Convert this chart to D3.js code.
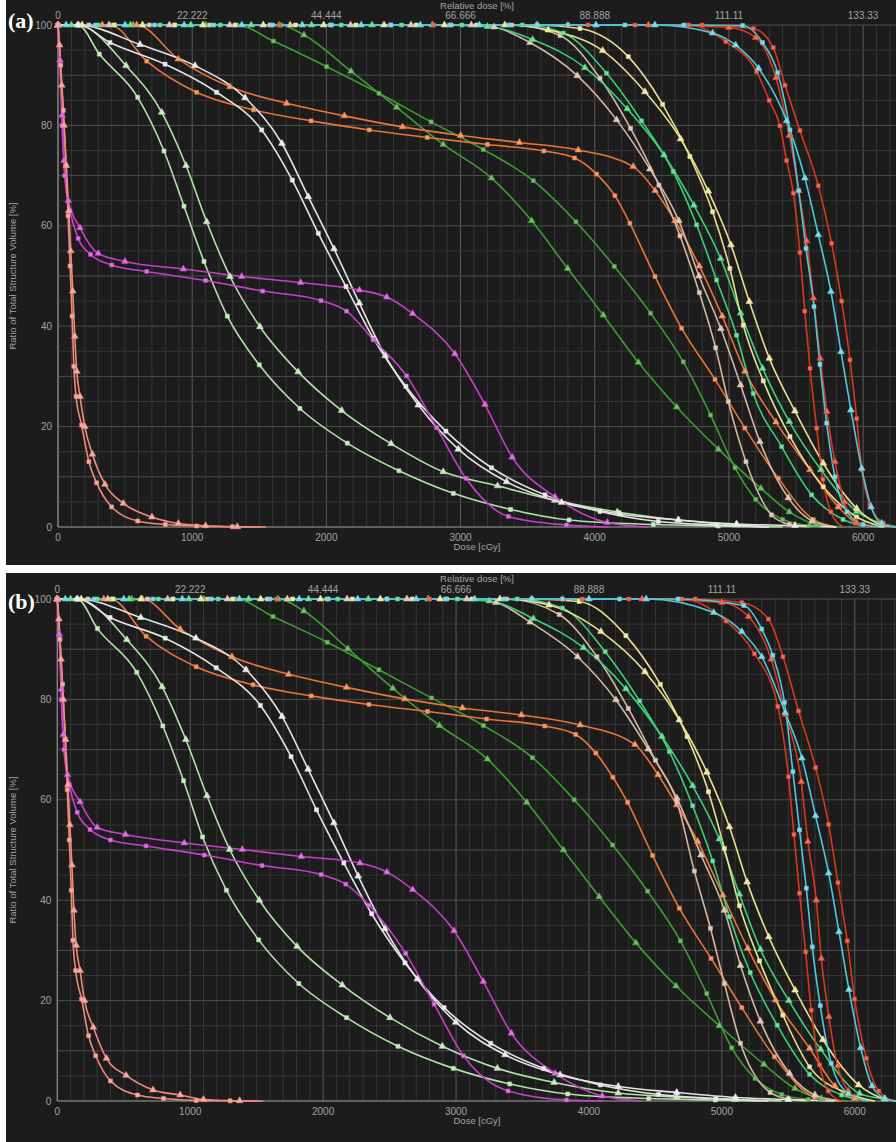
<!DOCTYPE html>
<html><head><meta charset="utf-8">
<script src="https://cdn.jsdelivr.net/npm/d3@7"></script>
<style>html,body{margin:0;padding:0;background:#fff;}svg{display:block;}</style>
</head><body>
<script>
// ---------- tick labels ----------
const doseTicks = [0,1000,2000,3000,4000,5000,6000];
const doseTickLabels = ["0","1000","2000","3000","4000","5000","6000"];
const relTicks = [0,22.222,44.444,66.666,88.888,111.11,133.33];
const relTickLabels = ["0","22.222","44.444","66.666","88.888","111.11","133.33"];
const volTicks = [0,20,40,60,80,100];
const volTickLabels = ["0","20","40","60","80","100"];

// ---------- panel (a) series: [dose cGy, volume %] ----------
const a_pinkSq = [[0,100],[20,92],[40,83],[60,72],[75,62],[90,52],[105,42],[118,32],[135,26],[176,20.3],[230,13],[288,8.8],[400,4],[594,1.2],[800,0.5],[1033,0.2],[1300,0.05],[1500,0]];
const a_pinkTri = [[0,100],[12,96],[28,88],[45,80],[62,72],[80,63],[95,55],[110,47],[125,38],[140,31],[164,26],[200,20],[256,14.5],[350,8.5],[487,4.7],[700,2],[897,0.7],[1100,0.25],[1336,0.05],[1550,0]];
const a_magTri = [[0,100],[15,93],[30,82],[45,73],[77,65],[164,59.6],[300,54.5],[499,52.9],[934,51.4],[1369,49.9],[1808,48.7],[2246,47.2],[2450,45.8],[2643,42.5],[2958,34.5],[3182,24.4],[3385,13.9],[3703,6.0],[4093,0.9],[4400,0]];
const a_magSq = [[0,100],[15,92],[30,80],[50,70],[90,63],[150,57.5],[243,54.3],[400,52.2],[661,50.9],[1100,49.1],[1525,47.0],[1960,45.1],[2150,43.0],[2350,37.3],[2598,30.1],[2822,19.8],[3040,9.7],[3356,2.1],[3790,0.4],[4100,0]];
const a_mintSq = [[0,100],[150,100],[308,94.2],[594,85.6],[790,74.9],[939,63.9],[1088,52.9],[1262,42.0],[1500,32.3],[1803,23.6],[2156,16.7],[2541,11.2],[2946,6.7],[3373,3.5],[3808,1.4],[4436,0.5],[4921,0.2],[5300,0]];
const a_mintTri = [[0,100],[150,100],[507,91.9],[773,82.6],[954,72.0],[1108,60.8],[1282,49.9],[1505,39.9],[1790,30.9],[2114,23.2],[2482,16.6],[2871,11.0],[3276,8.2],[3703,5.3],[4168,3.0],[4624,1.4],[5057,0.4],[5400,0]];
const a_whiteTri = [[0,100],[150,100],[611,96.1],[1021,91.9],[1394,85.5],[1669,76.4],[1865,65.8],[2057,55.4],[2246,44.6],[2439,34.1],[2685,24.3],[2983,15.5],[3343,9.0],[3753,4.9],[4188,2.6],[4622,1.4],[5057,0.6],[5492,0.3],[5800,0]];
const a_whiteSq = [[0,100],[150,100],[387,96.5],[798,92.2],[1182,86.6],[1518,79.1],[1746,69.1],[1940,58.5],[2146,47.9],[2350,37.6],[2593,28.0],[2891,19.1],[3231,11.8],[3629,6.4],[4039,3.1],[4473,1.1],[4908,0.4],[5300,0]];
const a_orangeTri = [[0,100],[330,100],[586,100],[897,93.2],[1282,87.7],[1704,84.4],[2134,81.9],[2568,79.7],[3001,78.0],[3438,76.6],[3877,75.1],[4287,71.8],[4450,67],[4598,61],[4779,52],[4950,42],[5120,31],[5350,20.9],[5604,11.4],[5815,4],[5950,0.8],[6100,0]];
const a_orangeSq = [[0,100],[390,100],[661,92.8],[1033,86.6],[1456,83.1],[1886,80.9],[2320,79.1],[2752,77.6],[3200,76.2],[3621,74.9],[3850,73.5],[4014,70.3],[4150,66],[4262,60.5],[4449,49.9],[4647,39.6],[4896,29.4],[5119,19.7],[5368,9.7],[5629,1.5],[5800,0]];
const a_dgreenCirc = [[0,100],[420,100],[870,100],[1331,100],[1605,96.8],[2002,91.7],[2392,86.4],[2780,80.7],[3169,75.2],[3542,69.0],[3860,60.8],[4146,51.9],[4416,42.6],[4660,32.9],[4863,22.3],[5045,11.8],[5200,5.5],[5400,1.5],[5600,0.3],[5800,0]];
const a_dgreenTri = [[0,100],[560,100],[1100,100],[1650,100],[1833,98],[2183,90.8],[2524,83.6],[2871,76.2],[3231,69.5],[3530,61.0],[3798,51.5],[4064,42.2],[4325,32.8],[4611,23.9],[4921,15.5],[5238,7.7],[5450,3],[5650,0.5],[5850,0]];
const a_tanTri = [[0,100],[380,100],[830,100],[1280,100],[1730,100],[2180,100],[2630,100],[3080,100],[3250,99.6],[3517,96.5],[3870,89.9],[4163,81.1],[4411,71.3],[4627,61.0],[4777,50],[4940,39.5],[5087,28.3],[5231,17.0],[5442,5.8],[5620,1.2],[5800,0]];
const a_tanSq = [[0,100],[230,100],[680,100],[1130,100],[1580,100],[2030,100],[2480,100],[2930,100],[3380,100],[3741,97.9],[4039,89.4],[4267,79.4],[4478,68.1],[4635,58.0],[4779,46.7],[4901,35.7],[4995,25.0],[5127,13.0],[5318,2.4],[5450,0.5],[5600,0]];
const a_mgreenTri = [[0,100],[100,100],[540,100],[990,100],[1440,100],[1890,100],[2340,100],[2790,100],[3200,99.7],[3537,97.1],[3927,91.5],[4242,83.3],[4516,74.1],[4739,64.1],[4938,53.5],[5087,42.6],[5251,31.6],[5450,21.0],[5686,11.4],[5952,3.1],[6138,0.7],[6250,0]];
const a_mgreenSq = [[0,100],[300,100],[760,100],[1210,100],[1660,100],[2110,100],[2560,100],[3010,100],[3460,100],[3766,98.4],[4088,90.4],[4349,80.9],[4585,70.8],[4759,60.2],[4908,49.2],[5057,38.2],[5181,26.6],[5393,16.0],[5616,6.4],[5850,1.5],[6050,0]];
const a_yellowTri = [[0,100],[180,100],[630,100],[1080,100],[1530,100],[1980,100],[2430,100],[2880,100],[3330,100],[3654,99],[4059,94.9],[4374,86.7],[4640,77.3],[4846,66.9],[5015,56.2],[5152,44.9],[5301,33.6],[5492,23.1],[5703,12.7],[5952,3.7],[6138,0.4],[6250,0]];
const a_yellowSq = [[0,100],[420,100],[870,100],[1320,100],[1770,100],[2220,100],[2670,100],[3120,100],[3570,100],[3890,99.3],[4250,93.7],[4506,84.2],[4709,73.8],[4878,62.8],[5007,51.5],[5107,40.2],[5256,29.1],[5455,18.0],[5703,8.0],[5952,2.0],[6150,0]];
const a_red1 = [[0,100],[1650,100],[2800,100],[3950,100],[4700,100],[4977,96.7],[5206,90.7],[5300,85],[5380,79.9],[5430,73],[5480,66.5],[5529,54.7],[5565,43],[5604,31.6],[5654,19.7],[5700,9.5],[5760,3],[5850,0]];
const a_red2 = [[0,100],[3800,100],[4400,100],[5000,99.5],[5200,97.5],[5350,89.5],[5450,78],[5520,67],[5579,57.0],[5630,45.6],[5680,33.6],[5730,23.0],[5790,13.0],[5860,5],[5950,1],[6050,0]];
const a_red3 = [[0,100],[4300,100],[4800,100],[5181,99.3],[5330,95.5],[5418,88.0],[5529,79.0],[5666,68.0],[5765,56.5],[5840,45.0],[5902,33.3],[5952,21.6],[5990,11.4],[6050,4.5],[6150,0.8],[6250,0]];
const a_cyanTri = [[0,100],[60,100],[500,100],[940,100],[1370,100],[1820,100],[2260,100],[2700,100],[3140,100],[3570,100],[4009,100],[4448,100],[4878,98.4],[5050,96.0],[5221,91.4],[5430,80.9],[5566,69.5],[5666,58.2],[5760,46.9],[5835,34.9],[5909,23.3],[5989,11.7],[6060,4],[6138,0.7],[6250,0]];
const a_cyanCirc = [[0,100],[280,100],[720,100],[1160,100],[1600,100],[2040,100],[2480,100],[2920,100],[3360,100],[3800,100],[4225,100],[4664,100],[5102,99.9],[5250,96.5],[5363,90.5],[5455,79.1],[5520,67],[5574,55.5],[5634,43.9],[5678,32.4],[5728,20.7],[5790,10],[5880,3],[6000,0.5],[6150,0]];

// ---------- panel (b) series ----------
const b_pinkSq = [[0,100],[20,92],[40,83],[60,72],[75,62],[90,52],[105,42],[118,32],[138,26],[183,20.3],[235,13],[289,9.0],[400,4],[603,1.2],[800,0.5],[1045,0.1],[1300,0.03],[1500,0]];
const b_pinkTri = [[0,100],[12,96],[28,88],[45,80],[62,72],[80,63],[95,55],[110,47],[125,38],[142,31],[171,26],[205,20],[271,14.7],[370,8.5],[518,5.1],[720,2.2],[925,1.2],[1100,0.3],[1372,0.05],[1550,0]];
const b_magTri = [[0,100],[15,93],[30,82],[45,73],[77,65],[171,59.6],[300,54.5],[513,53.1],[955,51.4],[1392,50.1],[1835,48.7],[2277,47.4],[2480,45.6],[2674,42.1],[2985,33.9],[3205,23.8],[3416,13.5],[3746,5.5],[4100,1],[4400,0]];
const b_magSq = [[0,100],[15,92],[30,80],[50,70],[90,63],[150,57.5],[246,54.1],[400,52],[668,50.8],[1106,49.0],[1540,46.9],[1985,45.1],[2170,43.2],[2345,39.0],[2621,29.4],[2835,19.3],[3056,9.0],[3391,2.0],[3831,0.2],[4100,0]];
const b_mintSq = [[0,100],[150,100],[302,94.1],[598,85.4],[794,74.7],[950,63.8],[1093,52.6],[1272,42.0],[1515,32.1],[1817,23.4],[2176,16.6],[2563,10.9],[2980,6.5],[3404,3.4],[3840,1.4],[4450,0.5],[4950,0.2],[5300,0]];
const b_mintTri = [[0,100],[150,100],[523,91.9],[789,82.5],[967,72.0],[1126,60.8],[1297,50.1],[1520,40.0],[1804,30.8],[2144,23.1],[2503,16.6],[2897,10.9],[3311,6.5],[3738,3.7],[4220,1.6],[4660,0.8],[5100,0.3],[5450,0]];
const b_whiteTri = [[0,100],[150,100],[628,96.3],[1043,92.2],[1420,85.9],[1691,76.6],[1887,66.1],[2081,55.4],[2264,44.8],[2465,34.3],[2709,24.3],[2998,15.7],[3369,9.2],[3783,5.2],[4220,2.9],[4660,1.7],[5102,0.7],[5500,0.3],[5850,0]];
const b_whiteSq = [[0,100],[150,100],[397,96.3],[812,92.2],[1196,86.3],[1528,78.8],[1759,68.6],[1950,58.0],[2156,47.4],[2365,37.3],[2616,27.5],[2910,18.6],[3261,11.5],[3658,6.5],[4085,3.2],[4524,1.3],[4956,0.5],[5350,0]];
const b_orangeTri = [[0,100],[350,100],[640,100],[925,94.0],[1314,88.5],[1741,85.0],[2176,82.4],[2614,80.1],[3048,78.3],[3492,76.9],[3934,74.9],[4346,71.0],[4520,65],[4660,59],[4818,51.7],[5007,41.0],[5195,30.4],[5404,20.1],[5660,10.5],[5850,3],[6000,0.5],[6150,0]];
const b_orangeSq = [[0,100],[400,100],[668,92.6],[1045,86.5],[1473,82.9],[1910,80.7],[2345,79.0],[2785,77.6],[3230,76.1],[3668,74.7],[3900,73],[4052,69.3],[4180,64.5],[4291,59.5],[4479,48.9],[4680,38.4],[4919,28.4],[5150,18.6],[5396,8.8],[5697,0.8],[5880,0]];
const b_dgreenCirc = [[0,100],[420,100],[870,100],[1340,100],[1623,96.5],[2031,91.4],[2420,85.9],[2815,80.3],[3205,74.8],[3575,68.4],[3889,60.0],[4178,51.0],[4441,41.8],[4688,31.9],[4886,21.4],[5074,10.6],[5250,4.5],[5450,1.3],[5650,0.3],[5850,0]];
const b_dgreenTri = [[0,100],[560,100],[1100,100],[1660,100],[1855,97.6],[2186,90.1],[2525,82.2],[2875,74.8],[3236,68.1],[3532,59.5],[3808,50.0],[4077,40.7],[4353,31.5],[4655,22.9],[4981,15.0],[5316,7.3],[5550,2.5],[5750,0.5],[5950,0]];
const b_tanTri = [[0,100],[380,100],[830,100],[1280,100],[1730,100],[2180,100],[2630,100],[3080,100],[3300,99.3],[3557,95.4],[3914,88.5],[4203,79.9],[4446,70.1],[4662,60.3],[4843,49.0],[5019,38.0],[5140,27.0],[5290,15.9],[5509,5.5],[5700,1.2],[5900,0]];
const b_tanSq = [[0,100],[230,100],[680,100],[1130,100],[1580,100],[2030,100],[2480,100],[2930,100],[3380,100],[3776,96.9],[4060,88.5],[4296,78.2],[4500,67.9],[4662,59.6],[4793,45.8],[4914,34.4],[5019,23.4],[5140,11.5],[5363,1.7],[5500,0.4],[5650,0]];
const b_mgreenTri = [[0,100],[100,100],[540,100],[990,100],[1440,100],[1890,100],[2340,100],[2790,100],[3250,99.6],[3582,96.1],[3959,90.3],[4278,82.1],[4549,72.6],[4780,62.8],[4981,52.2],[5132,41.2],[5290,30.2],[5504,20.0],[5743,10.3],[6036,1.5],[6225,0.4],[6310,0]];
const b_mgreenSq = [[0,100],[300,100],[760,100],[1210,100],[1660,100],[2110,100],[2560,100],[3010,100],[3460,100],[3800,98.2],[4122,89.5],[4381,79.7],[4605,69.6],[4780,58.8],[4931,47.8],[5057,36.7],[5213,25.6],[5416,15.1],[5660,5.3],[5900,1.2],[6100,0]];
const b_yellowTri = [[0,100],[180,100],[630,100],[1080,100],[1530,100],[1980,100],[2430,100],[2880,100],[3330,100],[3700,98.8],[4090,93.5],[4421,85.5],[4680,75.9],[4888,65.5],[5057,54.6],[5190,43.6],[5353,32.7],[5551,22.1],[5760,12.2],[6029,3.2],[6225,0.4],[6310,0]];
const b_yellowSq = [[0,100],[420,100],[870,100],[1320,100],[1770,100],[2220,100],[2670,100],[3120,100],[3570,100],[3926,99.5],[4278,92.7],[4537,83.0],[4738,72.6],[4899,61.6],[5019,50.3],[5132,38.9],[5283,27.9],[5459,17.1],[5660,6.8],[5950,1.5],[6150,0]];
const b_red1 = [[0,100],[1650,100],[2800,100],[3950,100],[4700,100],[5032,95.6],[5245,89.1],[5421,78.6],[5501,64.6],[5542,53.1],[5584,41.4],[5630,29.7],[5672,18.1],[5735,7.2],[5800,2],[5900,0]];
const b_red2 = [[0,100],[3800,100],[4400,100],[5000,99.3],[5200,96.5],[5371,88.0],[5480,77],[5597,63.6],[5647,51.7],[5710,40.0],[5748,28.4],[5805,16.8],[5870,7],[5950,2],[6050,0]];
const b_red3 = [[0,100],[4300,100],[4800,100],[5150,99.3],[5350,96],[5460,88.5],[5577,77.7],[5705,66.4],[5803,55.1],[5873,43.5],[5943,31.9],[5999,20.3],[6087,8.5],[6180,2],[6300,0]];
const b_cyanTri = [[0,100],[60,100],[500,100],[940,100],[1370,100],[1820,100],[2260,100],[2700,100],[3140,100],[3570,100],[4000,100],[4430,100],[4939,97.3],[5150,93.5],[5300,88.5],[5476,77.4],[5602,68.3],[5705,56.8],[5803,45.4],[5881,33.7],[5956,22.2],[6044,10.6],[6130,3],[6225,0.5],[6310,0]];
const b_cyanCirc = [[0,100],[280,100],[720,100],[1160,100],[1600,100],[2040,100],[2480,100],[2920,100],[3360,100],[3800,100],[4230,100],[4670,100],[5165,98.7],[5300,94],[5383,88.8],[5471,79.4],[5534,65.6],[5584,54.0],[5635,42.4],[5680,30.7],[5740,19.0],[5823,7.5],[5950,1.5],[6100,0]];

// ---------- styles ----------
const colors = {
  pink:'#ee8a7e', magenta:'#c640c9', mint:'#b4e2ab', white:'#e4e4e4', orange:'#e8763a',
  dgreen:'#3f9d33', tan:'#d3b8a3', mgreen:'#3fcf79', yellow:'#e8e08f', red:'#d8381f', cyan:'#52c8db'
};
const panelSeries = {
  a: {dgreenCirc:a_dgreenCirc, dgreenTri:a_dgreenTri, orangeSq:a_orangeSq, orangeTri:a_orangeTri,
      tanTri:a_tanTri, tanSq:a_tanSq, mgreenTri:a_mgreenTri, mgreenSq:a_mgreenSq,
      yellowTri:a_yellowTri, yellowSq:a_yellowSq, red1:a_red1, red2:a_red2, red3:a_red3,
      cyanTri:a_cyanTri, cyanCirc:a_cyanCirc, mintSq:a_mintSq, mintTri:a_mintTri,
      whiteSq:a_whiteSq, whiteTri:a_whiteTri, magSq:a_magSq, magTri:a_magTri, pinkSq:a_pinkSq, pinkTri:a_pinkTri},
  b: {dgreenCirc:b_dgreenCirc, dgreenTri:b_dgreenTri, orangeSq:b_orangeSq, orangeTri:b_orangeTri,
      tanTri:b_tanTri, tanSq:b_tanSq, mgreenTri:b_mgreenTri, mgreenSq:b_mgreenSq,
      yellowTri:b_yellowTri, yellowSq:b_yellowSq, red1:b_red1, red2:b_red2, red3:b_red3,
      cyanTri:b_cyanTri, cyanCirc:b_cyanCirc, mintSq:b_mintSq, mintTri:b_mintTri,
      whiteSq:b_whiteSq, whiteTri:b_whiteTri, magSq:b_magSq, magTri:b_magTri, pinkSq:b_pinkSq, pinkTri:b_pinkTri}
};
const seriesStyle = [
  ['dgreenCirc','dgreen','sq'],['dgreenTri','dgreen','tri'],['orangeSq','orange','sq'],['orangeTri','orange','tri'],
  ['tanTri','tan','tri'],['tanSq','tan','sq'],['mgreenTri','mgreen','tri'],['mgreenSq','mgreen','sq'],
  ['yellowTri','yellow','tri'],['yellowSq','yellow','sq'],['red1','red','sq'],['red2','red','tri'],['red3','red','sq'],
  ['cyanTri','cyan','tri'],['cyanCirc','cyan','sq'],['mintSq','mint','sq'],['mintTri','mint','tri'],
  ['whiteSq','white','sq'],['whiteTri','white','tri'],['magSq','magenta','sq'],['magTri','magenta','tri'],
  ['pinkSq','pink','sq'],['pinkTri','pink','tri']
];

const W = 896, H = 1142;
const panels = [
  {label:'(a)', key:'a', top:0, bottom:565, x0:58, doseMax:6245, yTop:25, yBot:527, labelY:28},
  {label:'(b)', key:'b', top:573, bottom:1142, x0:57.3, doseMax:6310, yTop:599, yBot:1101, labelY:609}
];

const svg = d3.select('body').append('svg').attr('width',W).attr('height',H)
  .style('font-family','"Liberation Sans", Arial, sans-serif');
svg.append('rect').attr('width',W).attr('height',H).attr('fill','#ffffff');

panels.forEach((P,pi)=>{
  const g = svg.append('g');
  g.append('rect').attr('x',6).attr('y',P.top).attr('width',W-6).attr('height',P.bottom-P.top).attr('fill','#1c1c1c');
  const x = d3.scaleLinear().domain([0,P.doseMax]).range([P.x0, W]);
  const xr = d3.scaleLinear().domain([0,P.doseMax/45]).range([P.x0, W]);
  const y = d3.scaleLinear().domain([0,100]).range([P.yBot, P.yTop]);

  // grid
  const grid = g.append('g');
  d3.range(0, P.doseMax, 100).forEach(d=>{
    const major = d % 1000 === 0;
    grid.append('line').attr('x1',x(d)).attr('x2',x(d)).attr('y1',y(100)).attr('y2',y(0))
      .attr('stroke', major ? '#5c5c5c' : '#363636').attr('stroke-width',1);
  });
  d3.range(0, 101, 5).forEach(v=>{
    const major = v % 10 === 0;
    grid.append('line').attr('x1',P.x0).attr('x2',W).attr('y1',y(v)).attr('y2',y(v))
      .attr('stroke', major ? '#4e4e4e' : '#343434').attr('stroke-width',1);
  });
  // axis lines
  g.append('line').attr('x1',P.x0).attr('x2',W).attr('y1',y(0)).attr('y2',y(0)).attr('stroke','#8a8a8a').attr('stroke-width',1.2);
  g.append('line').attr('x1',P.x0).attr('x2',P.x0).attr('y1',y(0)).attr('y2',y(100)).attr('stroke','#8a8a8a').attr('stroke-width',1.2);

  // tick labels
  const tc = '#a3a3a3';
  doseTicks.forEach((d,i)=>{
    g.append('text').attr('x',x(d)).attr('y',y(0)+14).attr('text-anchor','middle')
      .attr('font-size',10).attr('fill',tc).text(doseTickLabels[i]);
  });
  relTicks.forEach((r,i)=>{
    g.append('text').attr('x',xr(r)).attr('y',P.yTop-6).attr('text-anchor','middle')
      .attr('font-size',10).attr('fill',tc).text(relTickLabels[i]);
  });
  volTicks.forEach((v,i)=>{
    g.append('text').attr('x',P.x0-6).attr('y',y(v)+3.5).attr('text-anchor','end')
      .attr('font-size',10).attr('fill',tc).text(volTickLabels[i]);
  });
  g.append('text').attr('x',477).attr('y',P.top+9).attr('text-anchor','middle')
    .attr('font-size',9.5).attr('fill',tc).text('Relative dose [%]');
  g.append('text').attr('x',477).attr('y',y(0)+23).attr('text-anchor','middle')
    .attr('font-size',9.5).attr('fill',tc).text('Dose [cGy]');
  g.append('text').attr('transform',`translate(16,${(P.yTop+P.yBot)/2}) rotate(-90)`)
    .attr('text-anchor','middle').attr('font-size',9.5).attr('fill',tc)
    .text('Ratio of Total Structure Volume [%]');

  // clip
  const cid = 'clip'+pi;
  g.append('clipPath').attr('id',cid).append('rect')
    .attr('x',P.x0-4).attr('y',P.yTop-5).attr('width',W-P.x0+4).attr('height',P.yBot-P.yTop+10);
  const plot = g.append('g').attr('clip-path',`url(#${cid})`);

  const line = d3.line().x(p=>x(p[0])).y(p=>y(p[1])).curve(d3.curveMonotoneX);
  const series = seriesStyle.map(([k,c,m])=>({d:panelSeries[P.key][k], c, m}));
  series.forEach(s=>{
    plot.append('path').datum(s.d).attr('d',line).attr('fill','none')
      .attr('stroke',colors[s.c]).attr('stroke-width',1.6);
  });
  series.forEach(s=>{
    const col = colors[s.c];
    const fill = d3.interpolateRgb(col,'#ffffff')(0.3);
    const sym = d3.symbol().type(s.m==='tri'?d3.symbolTriangle:d3.symbolSquare).size(s.m==='tri'?20:16);
    plot.selectAll(null).data(s.d.slice(0,-1)).enter().append('path')
      .attr('d',sym).attr('transform',p=>`translate(${x(p[0])},${y(p[1])})`)
      .attr('fill',fill).attr('stroke',col).attr('stroke-width',0.6);
  });

  // panel label
  g.append('text').attr('x',8).attr('y',P.labelY)
    .attr('font-family','"Liberation Serif", "Times New Roman", serif').attr('font-weight','bold')
    .attr('font-size',22).attr('fill','#ffffff').text(P.label);
});
</script>
</body></html>
